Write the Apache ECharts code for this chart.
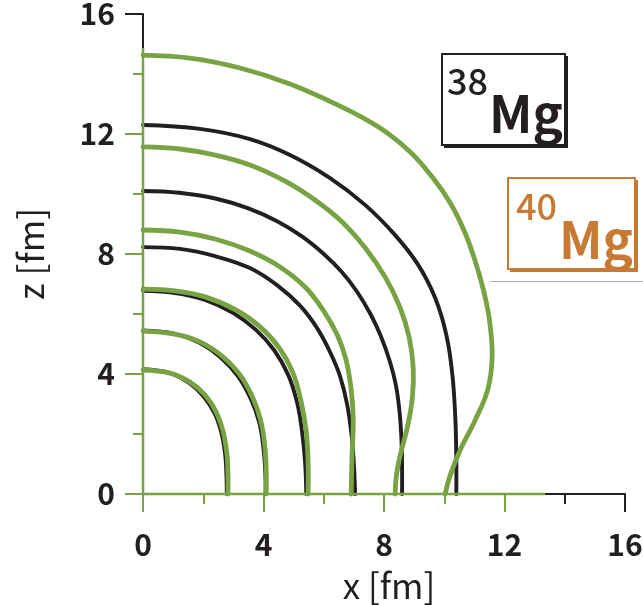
<!DOCTYPE html>
<html>
<head>
<meta charset="utf-8">
<script src="https://cdn.jsdelivr.net/npm/echarts@6/dist/echarts.min.js"></script>
<style>
  html, body { margin: 0; padding: 0; background: #ffffff; }
  #chart { width: 643px; height: 605px; }
</style>
</head>
<body>
<div id="chart"></div>
<script>
// Equal-density contours in the x–z plane, two isotopes.
// Each contour is a list of [x, z] points in fm, from the z axis down to the x axis.

const mg38Contour1 = [[0,4.16],[0.9,4.03],[1.53,3.7],[2.0,3.27],[2.37,2.7],[2.6,2.05],[2.73,1.3],[2.77,0.63],[2.78,0]];
const mg38Contour2 = [[0,5.45],[1.06,5.34],[1.86,5.05],[2.56,4.57],[3.15,3.93],[3.58,3.17],[3.86,2.38],[4.0,1.52],[4.06,0.73],[4.07,0]];
const mg38Contour3 = [[0,6.77],[1.06,6.7],[2.06,6.47],[3.0,6.03],[3.75,5.47],[4.35,4.8],[4.82,3.97],[5.12,3.03],[5.28,2.07],[5.38,1.07],[5.42,0]];
const mg38Contour4 = [[0,8.23],[1.23,8.17],[2.39,7.93],[3.55,7.53],[4.49,6.93],[5.22,6.27],[5.78,5.53],[6.21,4.73],[6.54,3.93],[6.78,2.97],[6.94,1.8],[7.01,0.8],[7.04,0]];
const mg38Contour5 = [[0,10.1],[1.2,10.04],[2.4,9.85],[3.5,9.52],[4.5,9.07],[5.3,8.57],[6.0,8.0],[6.6,7.4],[7.1,6.75],[7.55,6.0],[7.9,5.25],[8.2,4.4],[8.4,3.6],[8.52,2.7],[8.58,1.8],[8.6,0.9],[8.6,0]];
const mg38Contour6 = [[0,12.3],[1.89,12.17],[3.55,11.83],[4.88,11.3],[6.21,10.53],[7.38,9.63],[8.37,8.63],[9.14,7.63],[9.7,6.53],[10.07,5.3],[10.27,3.97],[10.37,2.47],[10.4,1.13],[10.4,0]];

const mg40Contour1 = [[0,4.13],[0.9,4.03],[1.56,3.73],[2.06,3.3],[2.43,2.73],[2.66,2.07],[2.79,1.3],[2.82,0.63],[2.82,0]];
const mg40Contour2 = [[0,5.43],[1.06,5.33],[1.89,5.07],[2.62,4.6],[3.22,3.97],[3.65,3.2],[3.92,2.4],[4.05,1.53],[4.09,0.73],[4.09,0]];
const mg40Contour3 = [[0,6.83],[1.06,6.77],[2.06,6.57],[3.1,6.13],[3.89,5.57],[4.52,4.87],[4.98,4.03],[5.25,3.07],[5.42,2.07],[5.48,1.07],[5.48,0]];
const mg40Contour4 = [[0,8.8],[1.23,8.73],[2.39,8.5],[3.55,8.1],[4.55,7.57],[5.38,6.9],[5.98,6.13],[6.45,5.3],[6.74,4.47],[6.91,3.47],[6.98,2.47],[6.94,1.3],[6.91,0]];
const mg40Contour5 = [[0,11.57],[1.23,11.5],[2.39,11.3],[3.55,10.97],[4.72,10.43],[5.71,9.8],[6.61,9.07],[7.38,8.2],[8.04,7.23],[8.54,6.2],[8.84,5.2],[8.97,4.2],[8.94,3.2],[8.77,2.2],[8.54,1.3],[8.41,0.6],[8.37,0]];
const mg40Contour6 = [[0,14.63],[1.56,14.53],[3.22,14.2],[4.88,13.67],[6.54,12.93],[7.87,12.2],[8.87,11.4],[9.63,10.53],[10.2,9.7],[10.65,8.8],[11.0,7.85],[11.3,6.8],[11.5,5.8],[11.59,4.6],[11.45,3.5],[11.03,2.47],[10.53,1.47],[10.2,0.63],[10.03,0]];

const mg38Contours = [mg38Contour1, mg38Contour2, mg38Contour3, mg38Contour4, mg38Contour5, mg38Contour6];
const mg40Contours = [mg40Contour1, mg40Contour2, mg40Contour3, mg40Contour4, mg40Contour5, mg40Contour6];

// axis ranges and tick values (fm)
const axisMin = 0;
const axisMax = 16;
const majorStep = 4;
const greenMajorTicksX = [0, 4, 8, 12];
const greenMinorTicksX = [2, 6, 10];
const greenMajorTicksZ = [0, 4, 8, 12];
const greenMinorTicksZ = [2, 6, 10, 14];
// extent of the green-drawn part of each axis line
const greenAxisLineX = [[0, 0], [13.35, 0]];
const greenAxisLineZ = [[0, 0], [0, 14.87]];

const BLACK = '#231f20';
const GREEN = '#78a343';
const ORANGE = '#c67a33';
const TICK_FONT = "'Liberation Sans Narrow', 'Noto Sans CJK JP', sans-serif";
const NAME_FONT = "'Noto Sans CJK JP', 'Noto Sans', sans-serif";

const chart = echarts.init(document.getElementById('chart'), null, { renderer: 'canvas' });

function mainAxis(pos, labelOpts, name, nameGap, nameRotate, namePad) {
  return {
    type: 'value', min: axisMin, max: axisMax, interval: majorStep, position: pos,
    axisLine: { show: true, onZero: false, lineStyle: { color: BLACK, width: 2 } },
    axisTick: { show: true, inside: false, length: 18, lineStyle: { color: BLACK, width: 2 } },
    minorTick: { show: true, splitNumber: 2, length: 10, lineStyle: { color: BLACK, width: 2 } },
    splitLine: { show: false }, minorSplitLine: { show: false },
    axisLabel: Object.assign({ fontSize: 30, fontWeight: 'bold', color: BLACK, fontFamily: TICK_FONT }, labelOpts),
    name: name, nameLocation: 'middle', nameGap: nameGap, nameRotate: nameRotate,
    nameTextStyle: { fontSize: 35, color: BLACK, fontFamily: NAME_FONT, padding: namePad }
  };
}

function greenTickAxis(pos, values, len) {
  return {
    type: 'value', min: axisMin, max: axisMax, position: pos,
    axisLine: { show: false, onZero: false },
    axisTick: { show: true, inside: false, length: len, customValues: values, lineStyle: { color: GREEN, width: 2 } },
    axisLabel: { show: false },
    splitLine: { show: false }
  };
}

// One contour = one custom series; the curve is a smooth polyline through
// the points, each point placed by the cartesian axes (api.coord).
function contourSeries(name, points, color, width, z) {
  return {
    name: name, type: 'custom', coordinateSystem: 'cartesian2d',
    xAxisIndex: 0, yAxisIndex: 0, z: z, silent: true,
    data: points,
    renderItem: function (params, api) {
      if (params.dataIndex !== 0) return null;
      const pts = points.map(function (p) { return api.coord(p); });
      return {
        type: 'polyline',
        shape: { points: pts, smooth: 0.4 },
        style: { stroke: color, lineWidth: width, fill: null, lineCap: 'round', lineJoin: 'round' }
      };
    }
  };
}

const series = [];
mg38Contours.forEach(function (c, i) {
  series.push(contourSeries('38Mg-' + (i + 1), c, BLACK, 3.9, 3));
});
mg40Contours.forEach(function (c, i) {
  series.push(contourSeries('40Mg-' + (i + 1), c, GREEN, 4.8, 4));
});
[greenAxisLineX, greenAxisLineZ].forEach(function (seg) {
  series.push({
    type: 'line', data: seg, showSymbol: false, symbol: 'none', xAxisIndex: 0, yAxisIndex: 0, z: 5,
    lineStyle: { color: GREEN, width: 2.5 }, clip: false, silent: true
  });
});

chart.setOption({
  animation: false,
  backgroundColor: '#ffffff',
  grid: { left: 143, top: 14, width: 482, height: 480, containLabel: false, outerBoundsMode: 'none' },
  xAxis: [
    mainAxis('bottom', { margin: 36 }, 'x [fm]', 74, 0, [0, 0, 0, 10]),
    greenTickAxis('bottom', greenMajorTicksX, 18),
    greenTickAxis('bottom', greenMinorTicksX, 10)
  ],
  yAxis: [
    mainAxis('left', { margin: 28, padding: [12, 0, 0, 0] }, 'z [fm]', 95, 90, 0),
    greenTickAxis('left', greenMajorTicksZ, 18),
    greenTickAxis('left', greenMinorTicksZ, 10)
  ],
  series: series,
  graphic: [
    // 38Mg label box
    { type: 'rect', shape: { x: 444, y: 56, width: 124, height: 92 }, style: { fill: BLACK } },
    { type: 'rect', shape: { x: 442, y: 54, width: 123, height: 91 }, style: { fill: '#ffffff', stroke: BLACK, lineWidth: 2 } },
    { type: 'text', style: { text: '38', x: 447, y: 81, fill: BLACK, font: "500 36px 'Noto Sans CJK JP'", align: 'left', verticalAlign: 'middle' } },
    { type: 'text', style: { text: 'Mg', x: 489, y: 114, fill: BLACK, font: "bold 51px 'Noto Sans CJK JP'", align: 'left', verticalAlign: 'middle' } },
    // 40Mg label box
    { type: 'rect', shape: { x: 510, y: 180, width: 128, height: 92 }, style: { fill: ORANGE } },
    { type: 'rect', shape: { x: 508, y: 178, width: 127, height: 91 }, style: { fill: '#ffffff', stroke: ORANGE, lineWidth: 2 } },
    { type: 'text', style: { text: '40', x: 516, y: 206, fill: ORANGE, font: "500 36px 'Noto Sans CJK JP'", align: 'left', verticalAlign: 'middle' } },
    { type: 'text', style: { text: 'Mg', x: 559, y: 240, fill: ORANGE, font: "bold 51px 'Noto Sans CJK JP'", align: 'left', verticalAlign: 'middle' } },
    // thin rule under the 40Mg box
    { type: 'line', shape: { x1: 490, y1: 281.5, x2: 643, y2: 281.5 }, style: { stroke: '#b0b0b0', lineWidth: 1 } }
  ]
});
</script>
</body>
</html>
